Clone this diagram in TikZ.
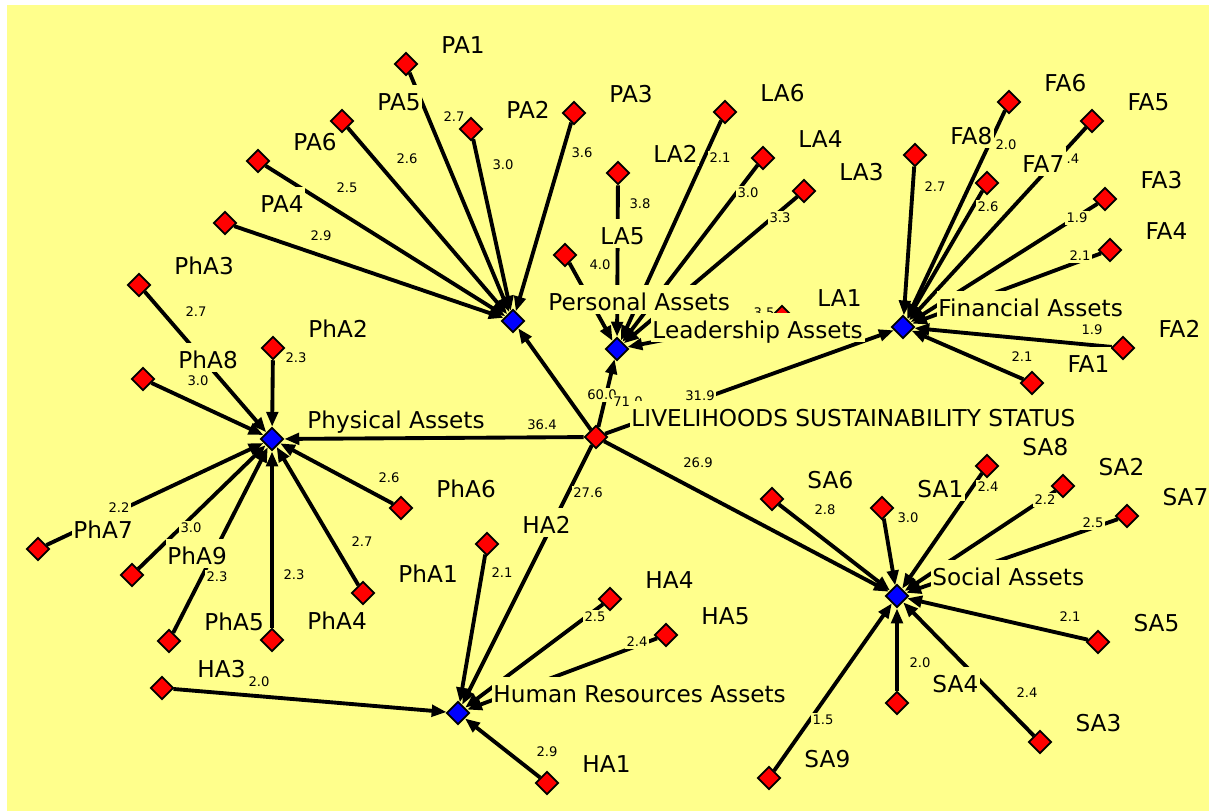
\documentclass[tikz,border=0pt]{standalone}
\usepackage{fontspec}
\setmainfont{DejaVu Sans}
\usetikzlibrary{shapes.geometric,arrows.meta}
\definecolor{netbg}{RGB}{255,255,140}
\pgfdeclarelayer{back}
\pgfdeclarelayer{lines}
\pgfsetlayers{back,lines,main}
\tikzset{
	nodetext/.style={xshift=0.42cm,yshift=0.43cm,fill=netbg,inner xsep=1pt,inner ysep=0.5pt,text height=14pt,text depth=2pt,font=\fontsize{13.2}{15}\selectfont},
	attr/.style={diamond,draw=black,line width=1pt,fill=red,inner sep=0pt,minimum size=0.46cm,label={[nodetext]0:#1}},
	asset/.style={attr=#1,fill=blue},
	weight/.style={fill=netbg,inner xsep=1pt,inner ysep=0.5pt,text height=6pt,text depth=1pt,font=\fontsize{7.5}{8}\selectfont},
}

\begin{document}
\begin{tikzpicture}[x=0.02cm,y=-0.02cm,>={Triangle[length=8.5pt,width=6.5pt]}]
	\useasboundingbox (0,0) rectangle (1209,811);
	\begin{pgfonlayer}{back}
		\fill[white] (0,0) rectangle (1209,811);
		\fill[netbg] (7,5) rectangle (1209,811);
	\end{pgfonlayer}

	\node[attr=PA1] (pa1) at (406,64) {};
	\node[attr=PA6] (pa6) at (258,161) {};
	\node[attr=PA5] (pa5) at (342,121) {};
	\node[attr=PA2] (pa2) at (471,129) {};
	\node[attr=PA3] (pa3) at (574,113) {};
	\node[attr=PA4] (pa4) at (225,223) {};
	\node[attr=LA6] (la6) at (725,112) {};
	\node[attr=LA2] (la2) at (618,173) {};
	\node[attr=LA4] (la4) at (763,158) {};
	\node[attr=LA3] (la3) at (804,191) {};
	\node[attr=LA5] (la5) at (565,255) {};
	\node[attr=LA1] (la1) at (782,317) {};
	\node[attr=FA6] (fa6) at (1009,102) {};
	\node[attr=FA5] (fa5) at (1092,121) {};
	\node[attr=FA8] (fa8) at (915,155) {};
	\node[attr=FA7] (fa7) at (987,183) {};
	\node[attr=FA3] (fa3) at (1105,199) {};
	\node[attr=FA4] (fa4) at (1110,250) {};
	\node[attr=FA2] (fa2) at (1123,348) {};
	\node[attr=FA1] (fa1) at (1032,383) {};
	\node[attr=PhA3] (pha3) at (139,285) {};
	\node[attr=PhA8] (pha8) at (143,379) {};
	\node[attr=PhA2] (pha2) at (273,348) {};
	\node[attr=PhA6] (pha6) at (401,508) {};
	\node[attr=PhA7] (pha7) at (38,549) {};
	\node[attr=PhA9] (pha9) at (132,575) {};
	\node[attr=PhA5] (pha5) at (169,641) {};
	\node[attr=PhA4] (pha4) at (272,640) {};
	\node[attr=PhA1] (pha1) at (363,593) {};
	\node[attr=HA2] (ha2) at (487,544) {};
	\node[attr=HA4] (ha4) at (610,599) {};
	\node[attr=HA5] (ha5) at (666,635) {};
	\node[attr=HA3] (ha3) at (162,688) {};
	\node[attr=HA1] (ha1) at (547,783) {};
	\node[attr=SA6] (sa6) at (772,499) {};
	\node[attr=SA1] (sa1) at (882,508) {};
	\node[attr=SA8] (sa8) at (987,466) {};
	\node[attr=SA2] (sa2) at (1063,486) {};
	\node[attr=SA7] (sa7) at (1127,516) {};
	\node[attr=SA5] (sa5) at (1098,642) {};
	\node[attr=SA4] (sa4) at (897,703) {};
	\node[attr=SA3] (sa3) at (1040,742) {};
	\node[attr=SA9] (sa9) at (769,778) {};
	\node[attr=LIVELIHOODS SUSTAINABILITY STATUS] (lss) at (596,437) {};
	\node[asset=Physical Assets] (phys) at (272,439) {};
	\node[asset=Personal Assets] (pers) at (513,321) {};
	\node[asset=Leadership Assets] (lead) at (617,349) {};
	\node[asset=Financial Assets] (fin) at (903,327) {};
	\node[asset=Social Assets] (soc) at (897,596) {};
	\node[asset=Human Resources Assets] (hum) at (458,713) {};

	\begin{pgfonlayer}{lines}
	\begin{scope}[line width=2.2pt]
	\path [->] (pa1) edge (pers);
	\path [->] (pa5) edge (pers);
	\path [->] (pa2) edge (pers);
	\path [->] (pa3) edge (pers);
	\path [->] (pa6) edge (pers);
	\path [->] (pa4) edge (pers);

	\path [->] (la6) edge (lead);
	\path [->] (la2) edge (lead);
	\path [->] (la4) edge (lead);
	\path [->] (la3) edge (lead);
	\path [->] (la5) edge (lead);
	\path [->] (la1) edge (lead);

	\path [->] (fa6) edge (fin);
	\path [->] (fa5) edge (fin);
	\path [->] (fa8) edge (fin);
	\path [->] (fa7) edge (fin);
	\path [->] (fa3) edge (fin);
	\path [->] (fa4) edge (fin);
	\path [->] (fa2) edge (fin);
	\path [->] (fa1) edge (fin);

	\path [->] (pha3) edge (phys);
	\path [->] (pha8) edge (phys);
	\path [->] (pha2) edge (phys);
	\path [->] (pha6) edge (phys);
	\path [->] (pha7) edge (phys);
	\path [->] (pha9) edge (phys);
	\path [->] (pha5) edge (phys);
	\path [->] (pha4) edge (phys);
	\path [->] (pha1) edge (phys);

	\path [->] (ha2) edge (hum);
	\path [->] (ha4) edge (hum);
	\path [->] (ha5) edge (hum);
	\path [->] (ha3) edge (hum);
	\path [->] (ha1) edge (hum);

	\path [->] (sa6) edge (soc);
	\path [->] (sa1) edge (soc);
	\path [->] (sa8) edge (soc);
	\path [->] (sa2) edge (soc);
	\path [->] (sa7) edge (soc);
	\path [->] (sa5) edge (soc);
	\path [->] (sa4) edge (soc);
	\path [->] (sa3) edge (soc);
	\path [->] (sa9) edge (soc);

	\path [->] (lss) edge (phys);
	\path [->] (lss) edge (pers);
	\path [->] (lss) edge (lead);
	\path [->] (lss) edge (fin);
	\path [->] (lss) edge (soc);
	\path [->] (lss) edge (hum);
	\end{scope}

	\node[weight] (w1) at (454,117) {2.7};
	\node[weight] (w2) at (407,159) {2.6};
	\node[weight] (w3) at (503,165) {3.0};
	\node[weight] (w4) at (582,153) {3.6};
	\node[weight] (w5) at (347,188) {2.5};
	\node[weight] (w6) at (321,236) {2.9};
	\node[weight] (w7) at (720,158) {2.1};
	\node[weight] (w8) at (640,204) {3.8};
	\node[weight] (w9) at (748,193) {3.0};
	\node[weight] (w10) at (780,218) {3.3};
	\node[weight] (w11) at (600,265) {4.0};
	\node[weight] (w12) at (764,313) {3.5};
	\node[weight] (w13) at (1006,145) {2.0};
	\node[weight] (w14) at (1073,159) {.4};
	\node[weight] (w15) at (935,187) {2.7};
	\node[weight] (w16) at (988,207) {2.6};
	\node[weight] (w17) at (1077,218) {1.9};
	\node[weight] (w18) at (1080,256) {2.1};
	\node[weight] (w19) at (1092,330) {1.9};
	\node[weight] (w20) at (1022,357) {2.1};
	\node[weight] (w21) at (196,312) {2.7};
	\node[weight] (w22) at (198,381) {3.0};
	\node[weight] (w23) at (296,358) {2.3};
	\node[weight] (w24) at (389,478) {2.6};
	\node[weight] (w25) at (119,508) {2.2};
	\node[weight] (w26) at (191,528) {3.0};
	\node[weight] (w27) at (217,577) {2.3};
	\node[weight] (w28) at (294,575) {2.3};
	\node[weight] (w29) at (362,542) {2.7};
	\node[weight] (w30) at (502,573) {2.1};
	\node[weight] (w31) at (595,617) {2.5};
	\node[weight] (w32) at (637,642) {2.4};
	\node[weight] (w33) at (259,682) {2.0};
	\node[weight] (w34) at (547,752) {2.9};
	\node[weight] (w35) at (825,510) {2.8};
	\node[weight] (w36) at (908,518) {3.0};
	\node[weight] (w37) at (988,487) {2.4};
	\node[weight] (w38) at (1045,500) {2.2};
	\node[weight] (w39) at (1093,523) {2.5};
	\node[weight] (w40) at (1070,617) {2.1};
	\node[weight] (w41) at (920,663) {2.0};
	\node[weight] (w42) at (1027,693) {2.4};
	\node[weight] (w43) at (823,720) {1.5};
	\node[weight] (w44) at (542,425) {36.4};
	\node[weight] (w45) at (602,395) {60.0};
	\node[weight] (w46) at (628,402) {71.0};
	\node[weight] (w47) at (700,396) {31.9};
	\node[weight] (w48) at (698,463) {26.9};
	\node[weight] (w49) at (588,493) {27.6};
	\end{pgfonlayer}
\end{tikzpicture}
\end{document}
